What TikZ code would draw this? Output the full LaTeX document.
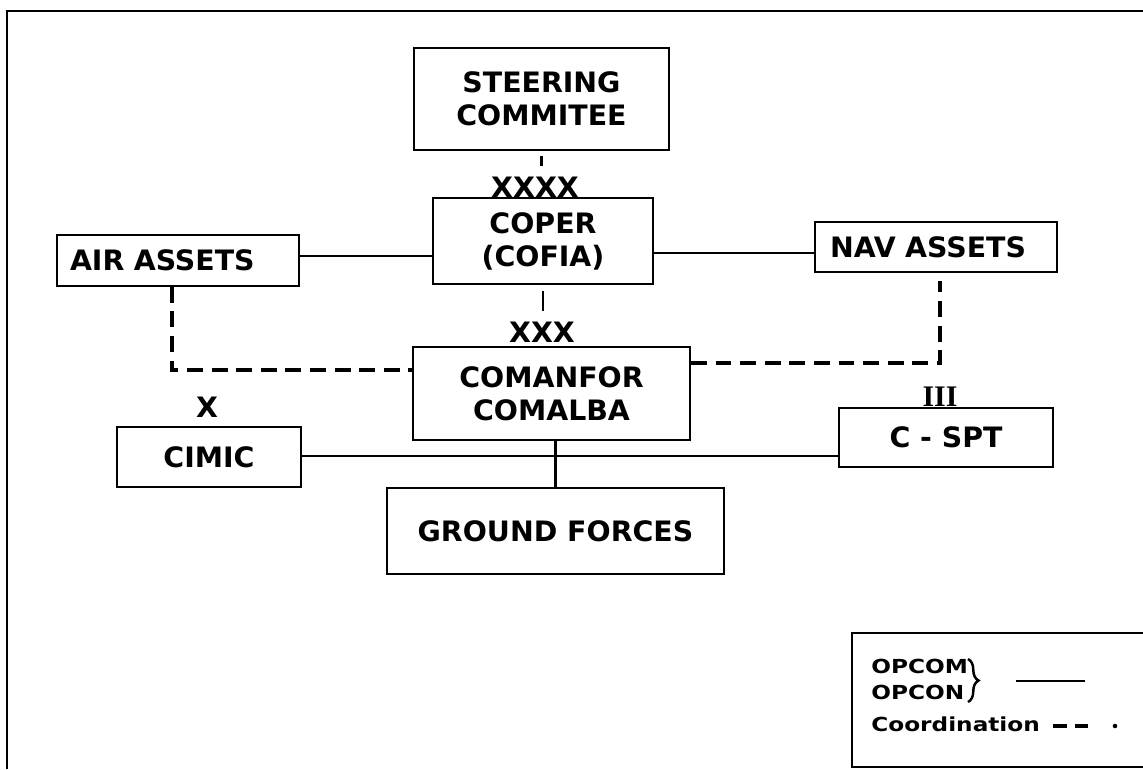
\documentclass[tikz,border=0pt]{standalone}
\usepackage{fontspec}
\usepackage{tikz}
\usetikzlibrary{decorations.pathreplacing}
\setmainfont{DejaVu Sans}
\newfontfamily\boxfont{DejaVu Sans}[FakeStretch=1.01]
\newfontfamily\keyfont{DejaVu Sans}[FakeStretch=1.2]
\newfontfamily\romfont{Liberation Serif}

\begin{document}
\begin{tikzpicture}[x=0.02cm,y=-0.02cm,
    unit/.style={draw,line width=1.1pt,align=center,inner sep=0pt,
        font=\boxfont\bfseries\fontsize{16}{18.8}\selectfont},
    asset/.style={unit,align=left,inner xsep=#1,text width=4.84cm-2*#1,minimum height=1.01cm},
    ech/.style={inner sep=0pt,font=\boxfont\bfseries\fontsize{16}{17}\selectfont},
    key/.style={inner sep=0pt,anchor=base west,font=\keyfont\bfseries\fontsize{11}{12}\selectfont},
    cmd/.style={line width=1.6pt},
    coord/.style={line width=1.9pt,dash pattern=on 9pt off 5pt}]
    \useasboundingbox (0,0) rectangle (1143,769);
    \draw [line width=1pt] (7,769) |- (1143,11);

    \node [unit,minimum width=5.1cm,minimum height=2.04cm] (steer) at (541.5,99) {STEERING\\COMMITEE};
    \node [unit,minimum width=4.4cm,minimum height=1.72cm] (coper) at (543,241) {COPER\\(COFIA)};
    \node [asset=0.26cm] (air) at (178,260.5) {AIR ASSETS};
    \node [asset=0.3cm] (nav) at (936,247) {NAV ASSETS};
    \node [unit,minimum width=5.54cm,minimum height=1.86cm] (comanfor) at (551.5,393.5) {COMANFOR\\COMALBA};
    \node [unit,minimum width=3.68cm,minimum height=1.2cm] (cimic) at (209,457) {CIMIC};
    \node [unit,minimum width=4.28cm,minimum height=1.18cm] (cspt) at (946,437.5) {C - SPT};
    \node [unit,minimum width=6.74cm,minimum height=1.72cm] (ground) at (555.5,531) {GROUND FORCES};

    \node [ech] (xxxx) at (535,187) {XXXX};
    \node [ech] (xxx) at (542,332) {XXX};
    \node [ech] (x) at (207,407) {X};
    \node [inner sep=0pt,font=\romfont\bfseries\fontsize{17}{18}\selectfont] (iii) at (940,397) {III};

    \begin{scope}[cmd]
    \draw [shorten <=0.1cm,shorten >=0.2cm] (steer.south) -- (steer.south |- xxxx.north);
    \draw [shorten <=0.12cm,shorten >=0.2cm] (coper.south) -- (coper.south |- xxx.north);
    \draw (air.east |- 0,256) -- (coper.west |- 0,256);
    \draw (coper.east |- 0,253) -- (nav.west |- 0,253);
    \draw (cimic.east |- 0,456) -- (cspt.west |- 0,456);
    \draw (ground.north |- comanfor.south) -- (ground.north);
    \end{scope}
    \draw [coord] (air.south -| 172,0) |- (comanfor.west |- 0,370);
    \draw [coord,shorten >=0.16cm] (comanfor.east |- 0,363) -| (nav.south -| 940,0);

    \draw [line width=1pt] (1143,633) -| (852,767) -- (1143,767);
    \node [key] (opcom) at (871,673) {OPCOM};
    \node [key] (opcon) at (871,699) {OPCON};
    \draw [line width=1.4pt,decorate,decoration={brace,amplitude=6pt}] (968,659) -- (968,702);
    \draw [cmd] (1016,681) -- (1085,681);
    \node [key] (coordn) at (871,731) {Coordination};
    \draw [line width=2.2pt] (1053,726) -- (1067,726) (1075,726) -- (1088,726);
    \fill (1115,726) circle (1.3pt);
\end{tikzpicture}
\end{document}
